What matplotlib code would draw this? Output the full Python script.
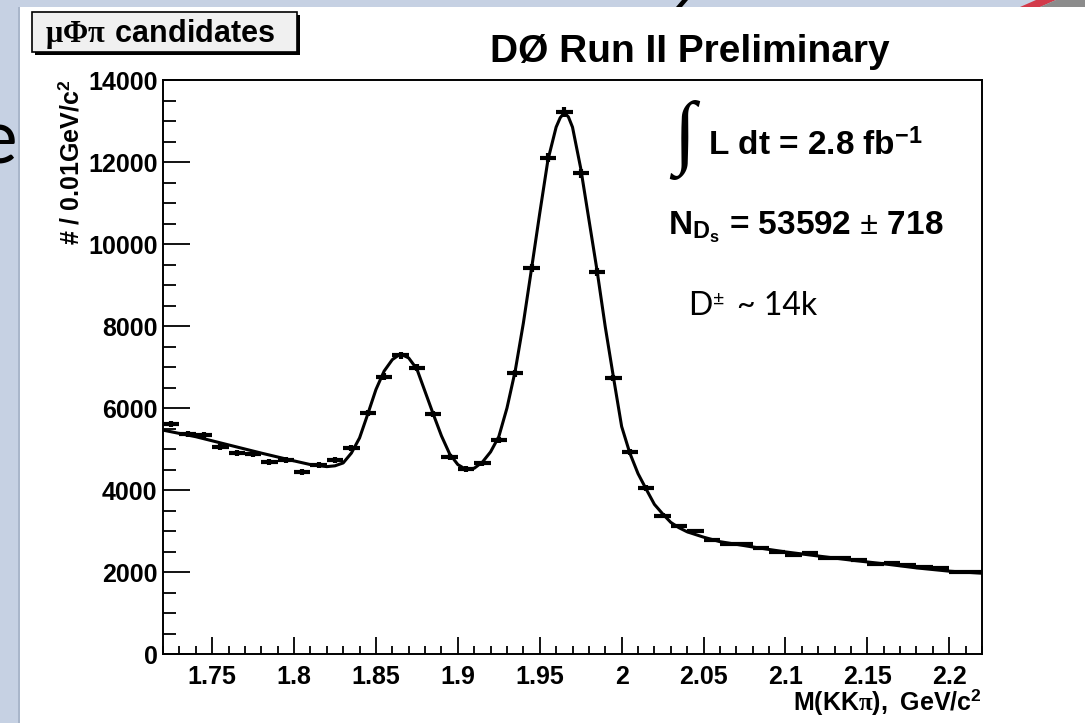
import numpy as np
import matplotlib
matplotlib.use("Agg")
import matplotlib.pyplot as plt
from matplotlib.patches import Rectangle, Polygon
from matplotlib.ticker import MultipleLocator, FormatStrFormatter

# fonts: Helvetica-like bold for the ROOT plot, serif for the greek symbols
plt.rcParams['font.family'] = ['Liberation Sans', 'DejaVu Sans']
plt.rcParams['font.weight'] = 'bold'
plt.rcParams['mathtext.fontset'] = 'custom'
plt.rcParams['mathtext.rm'] = 'Liberation Serif'
plt.rcParams['mathtext.bf'] = 'Liberation Sans:bold'
plt.rcParams['mathtext.default'] = 'rm'

# histogram: bin centres (0.01 GeV bins) and counts
bin_centres = [1.725, 1.735, 1.745, 1.755, 1.765, 1.775, 1.785, 1.795, 1.805, 1.815,
               1.825, 1.835, 1.845, 1.855, 1.865, 1.875, 1.885, 1.895, 1.905, 1.915,
               1.925, 1.935, 1.945, 1.955, 1.965, 1.975, 1.985, 1.995, 2.005, 2.015,
               2.025, 2.035, 2.045, 2.055, 2.065, 2.075, 2.085, 2.095, 2.105, 2.115,
               2.125, 2.135, 2.145, 2.155, 2.165, 2.175, 2.185, 2.195, 2.205, 2.215]
counts = [5610, 5370, 5330, 5050, 4900, 4870, 4690, 4730, 4440, 4610,
          4730, 5020, 5870, 6760, 7290, 6980, 5850, 4810, 4510, 4650,
          5220, 6850, 9410, 12100, 13220, 11730, 9320, 6730, 4930, 4050,
          3370, 3120, 3000, 2780, 2680, 2680, 2580, 2490, 2410, 2460,
          2340, 2340, 2290, 2190, 2220, 2170, 2120, 2090, 2000, 2000]
bin_half = 0.005

# fit curve
fit_x = [1.72, 1.74, 1.76, 1.78, 1.80, 1.81, 1.82, 1.825, 1.83, 1.835, 1.84, 1.845,
         1.85, 1.855, 1.86, 1.865, 1.87, 1.875, 1.88, 1.885, 1.89, 1.895, 1.90,
         1.905, 1.91, 1.915, 1.92, 1.925, 1.93, 1.935, 1.94, 1.945, 1.95, 1.955,
         1.96, 1.9625, 1.965, 1.9675, 1.97, 1.975, 1.98, 1.985, 1.99, 1.995, 2.00,
         2.005, 2.01, 2.015, 2.02, 2.025, 2.03, 2.035, 2.04, 2.05, 2.06, 2.08,
         2.10, 2.12, 2.14, 2.16, 2.18, 2.20, 2.22]
fit_y = [5460, 5300, 5100, 4900, 4710, 4620, 4570, 4590, 4660, 4900, 5270, 5850,
         6450, 6900, 7180, 7320, 7220, 6950, 6400, 5850, 5320, 4880, 4620,
         4500, 4530, 4680, 4930, 5300, 6000, 6900, 8070, 9400, 10750, 12050,
         12850, 13080, 13200, 13100, 12850, 11850, 10600, 9350, 7980, 6750, 5550,
         4900, 4400, 4020, 3650, 3420, 3210, 3080, 2980, 2850, 2740, 2610,
         2490, 2390, 2290, 2200, 2100, 2020, 1970]

W, H = 1085, 723
def fx(x):
    return x / W
def fy(y):
    return 1 - y / H

fig = plt.figure(figsize=(W / 100, H / 100), dpi=100, facecolor='#c6d1e3')

# slide remnants behind the pasted plot
fig.text(fx(-22), fy(163), "e", fontsize=54, family='Lato', weight='normal',
         color='black', zorder=-3)
fig.patches.append(Rectangle((fx(20), 0), 1 - fx(20), fy(7), transform=fig.transFigure,
                             facecolor='white', edgecolor='none', zorder=-1))
fig.patches.append(Rectangle((fx(18), 0), fx(2), fy(7), transform=fig.transFigure,
                             facecolor='#a9b6ca', edgecolor='none', zorder=-1))
fig.patches.append(Polygon([(fx(676), fy(7)), (fx(682), fy(7)), (fx(688), fy(0)), (fx(682), fy(0))],
                           closed=True, transform=fig.transFigure, facecolor='black', zorder=-1))
fig.patches.append(Polygon([(fx(1020), fy(7)), (fx(1040), fy(7)), (fx(1056), fy(0)), (fx(1036), fy(0))],
                           closed=True, transform=fig.transFigure, facecolor='#d23a4a', zorder=-1))
fig.patches.append(Polygon([(fx(1040), fy(7)), (fx(1085), fy(7)), (fx(1085), fy(0)), (fx(1056), fy(0))],
                           closed=True, transform=fig.transFigure, facecolor='#8c8c8c', zorder=-1))

ax = fig.add_axes([fx(163), fy(654), fx(982) - fx(163), fy(80) - fy(654)])
ax.set_facecolor('white')

ax.plot(fit_x, fit_y, color='black', lw=2.2, zorder=2)
ax.errorbar(bin_centres, counts, xerr=bin_half, yerr=np.sqrt(counts), fmt='none',
            ecolor='black', elinewidth=3, capsize=0, zorder=3)

ax.set_xlim(1.72, 2.22)
ax.set_ylim(0, 14000)
ax.xaxis.set_major_locator(MultipleLocator(0.05))
ax.xaxis.set_minor_locator(MultipleLocator(0.01))
ax.xaxis.set_major_formatter(FormatStrFormatter('%g'))
ax.yaxis.set_major_locator(MultipleLocator(2000))
ax.yaxis.set_minor_locator(MultipleLocator(500))

for s in ax.spines.values():
    s.set_linewidth(1.4)
ax.tick_params(which='both', direction='in', top=False, right=False, width=1.3, labelsize=18)
ax.tick_params(axis='y', which='major', length=19.5, pad=4)
ax.tick_params(axis='y', which='minor', length=9.5)
ax.tick_params(axis='x', which='major', length=12, pad=8)
ax.tick_params(axis='x', which='minor', length=6)

ax.set_ylabel(r"# / 0.01GeV/c$^{\mathbf{2}}$", fontsize=18, fontweight='bold', loc='top')
ax.yaxis.set_label_coords(-0.097, 1.0)
ax.set_xlabel(r"$\mathbf{M(KK}\pi\mathbf{),\;GeV/c}^{\mathbf{2}}$", fontsize=18,
              fontweight='normal', loc='right')
ax.xaxis.set_label_coords(1.0, -0.058)

# title and box
fig.text(fx(690), fy(62), "DØ Run II Preliminary", ha='center', va='baseline', fontsize=28)
fig.patches.append(Rectangle((fx(35), fy(55)), fx(265), fy(12) - fy(52), transform=fig.transFigure,
                             facecolor='black', edgecolor='none', zorder=1))
fig.patches.append(Rectangle((fx(32), fy(52)), fx(265), fy(12) - fy(52), transform=fig.transFigure,
                             facecolor='#f0f0f0', edgecolor='black', lw=1.2, zorder=1.5))
fig.text(fx(45), fy(42), r"$\mu\Phi\pi\ \mathbf{candidates}$", ha='left', va='baseline',
         fontsize=22, fontweight='normal', zorder=4)

# fit info
fig.text(fx(673), fy(140), "∫", ha='left', va='center', fontsize=58, weight='normal',
         family=['Liberation Serif', 'DejaVu Serif'])
fig.text(fx(708), fy(155), r"L dt = 2.8 fb$^{\mathbf{-1}}$", ha='left', va='baseline', fontsize=24)
fig.text(fx(668), fy(235), r"N$_{\mathbf{D}_{\mathbf{s}}}$ = 53592 $\pm$ 718", ha='left',
         va='baseline', fontsize=24)

# slide annotation
fig.text(fx(688), fy(315), "D", ha='left', va='baseline', fontsize=23, family='Lato', weight='normal')
fig.text(fx(713), fy(305), "±", ha='left', va='baseline', fontsize=14, family='Lato', weight='normal')
fig.text(fx(737), fy(315), "~ 14k", ha='left', va='baseline', fontsize=23, family='Lato', weight='normal')

fig.savefig("out.png", dpi=100, facecolor=fig.get_facecolor())
